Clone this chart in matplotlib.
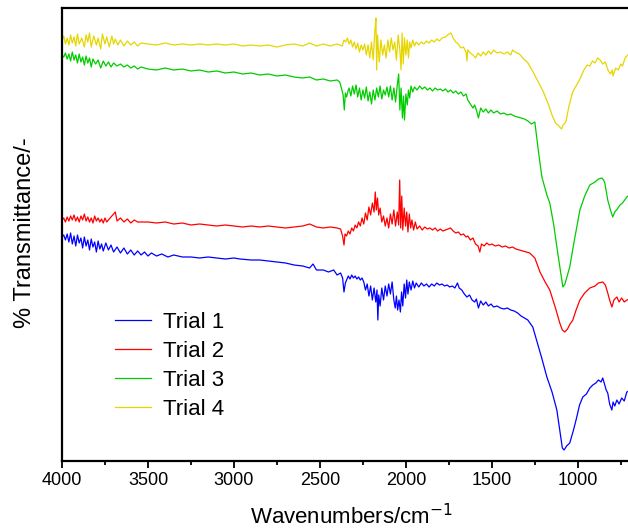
import numpy as np
import matplotlib
matplotlib.use("Agg")
import matplotlib.pyplot as plt

plt.rcParams['font.family'] = ['Liberation Sans', 'DejaVu Sans']

# (wavenumber, transmittance in arbitrary units)
trial1_points = [
    (4000, 224), (3990, 226), (3980, 221), (3970, 227), (3960, 219), (3950, 228), (3940, 217),
    (3930, 225), (3920, 215), (3910, 226), (3900, 218), (3890, 223), (3880, 213), (3870, 224),
    (3860, 215), (3850, 221), (3840, 211), (3830, 222), (3820, 214), (3810, 219), (3800, 209),
    (3790, 220), (3780, 212), (3770, 217), (3760, 210), (3745, 218), (3730, 211), (3715, 216),
    (3700, 209), (3680, 214), (3660, 208), (3640, 213), (3620, 207), (3600, 211), (3580, 206),
    (3560, 210), (3540, 206), (3520, 209), (3500, 205), (3480, 208), (3450, 205), (3420, 207),
    (3384, 204), (3350, 206), (3300, 204), (3250, 204), (3200, 203), (3150, 204), (3100, 203),
    (3050, 202), (3000, 203), (2965, 202), (2900, 201), (2850, 201), (2800, 200), (2750, 199),
    (2700, 198), (2650, 196), (2600, 195), (2560, 193), (2540, 197), (2520, 191), (2480, 191),
    (2450, 189), (2420, 191), (2400, 186), (2380, 188), (2368, 183), (2360, 169), (2352, 178),
    (2345, 181), (2335, 185), (2325, 182), (2315, 186), (2305, 183), (2295, 185), (2285, 182),
    (2275, 184), (2265, 181), (2255, 183), (2245, 179), (2235, 171), (2225, 177), (2215, 165),
    (2205, 175), (2195, 161), (2185, 173), (2175, 159), (2168, 171), (2163, 141), (2158, 166),
    (2150, 155), (2140, 173), (2130, 161), (2120, 175), (2110, 165), (2100, 177), (2090, 167),
    (2080, 179), (2070, 161), (2062, 153), (2055, 165), (2048, 151), (2040, 161), (2032, 149),
    (2025, 169), (2018, 155), (2010, 177), (2002, 163), (1995, 181), (1988, 167), (1980, 179),
    (1970, 171), (1960, 180), (1950, 173), (1940, 178), (1925, 174), (1910, 178), (1895, 175),
    (1880, 177), (1865, 174), (1850, 177), (1835, 175), (1820, 178), (1805, 176), (1790, 177),
    (1775, 175), (1760, 176), (1745, 174), (1730, 175), (1715, 173), (1700, 178), (1690, 173),
    (1675, 171), (1660, 167), (1645, 164), (1630, 166), (1615, 161), (1600, 159), (1590, 162),
    (1578, 153), (1565, 160), (1550, 156), (1535, 159), (1520, 155), (1505, 157), (1490, 154),
    (1470, 155), (1450, 153), (1430, 152), (1410, 153), (1390, 151), (1370, 150), (1350, 148),
    (1330, 145), (1310, 143), (1291, 141), (1262, 134), (1240, 121), (1210, 103), (1180, 84),
    (1150, 69), (1122, 51), (1105, 31), (1090, 13), (1080, 11), (1065, 15), (1047, 18),
    (1025, 31), (1006, 44), (990, 56), (971, 64), (950, 67), (930, 73), (913, 76), (895, 78),
    (880, 81), (865, 79), (855, 83), (845, 77), (835, 71), (826, 68), (815, 57), (802, 51),
    (795, 59), (785, 55), (773, 61), (760, 57), (745, 63), (730, 60), (715, 69), (690, 71),
]

trial2_points = [
    (4000, 241), (3990, 243), (3980, 239), (3970, 244), (3960, 240), (3950, 245), (3940, 241),
    (3930, 246), (3920, 240), (3910, 244), (3900, 239), (3890, 245), (3880, 241), (3870, 247),
    (3860, 240), (3850, 244), (3840, 239), (3830, 243), (3820, 238), (3810, 245), (3800, 240),
    (3790, 243), (3780, 239), (3770, 242), (3760, 238), (3750, 243), (3740, 239), (3690, 249),
    (3680, 240), (3660, 243), (3640, 239), (3620, 242), (3600, 238), (3580, 241), (3560, 239),
    (3500, 239), (3450, 238), (3400, 239), (3350, 237), (3300, 238), (3250, 236), (3200, 237),
    (3150, 236), (3100, 235), (3050, 236), (3000, 235), (2950, 234), (2900, 235), (2850, 234),
    (2800, 235), (2750, 234), (2700, 233), (2650, 234), (2600, 235), (2560, 237), (2520, 234),
    (2480, 233), (2440, 234), (2400, 233), (2380, 232), (2368, 225), (2360, 216), (2354, 227),
    (2345, 225), (2335, 230), (2325, 227), (2315, 233), (2305, 230), (2295, 236), (2285, 233),
    (2275, 239), (2265, 235), (2255, 243), (2245, 237), (2235, 248), (2225, 241), (2215, 254),
    (2205, 246), (2195, 258), (2185, 249), (2178, 269), (2172, 251), (2165, 263), (2158, 246),
    (2150, 253), (2140, 239), (2130, 245), (2120, 235), (2110, 243), (2100, 233), (2090, 247),
    (2080, 237), (2070, 251), (2060, 235), (2050, 249), (2042, 236), (2036, 281), (2030, 233),
    (2024, 265), (2018, 231), (2010, 253), (2002, 235), (1995, 249), (1988, 229), (1980, 247),
    (1972, 233), (1965, 241), (1955, 231), (1945, 239), (1935, 232), (1920, 235), (1905, 231),
    (1890, 234), (1875, 232), (1860, 233), (1845, 231), (1830, 233), (1815, 230), (1800, 232),
    (1785, 230), (1770, 231), (1755, 232), (1740, 233), (1725, 230), (1710, 228), (1695, 229),
    (1680, 226), (1665, 227), (1650, 224), (1640, 225), (1625, 221), (1610, 223), (1595, 217),
    (1580, 215), (1570, 209), (1560, 217), (1545, 215), (1530, 218), (1515, 216), (1500, 217),
    (1480, 215), (1460, 216), (1440, 214), (1420, 215), (1400, 213), (1380, 214), (1360, 212),
    (1340, 211), (1320, 210), (1300, 209), (1280, 208), (1250, 203), (1220, 189), (1190, 179),
    (1163, 171), (1130, 153), (1105, 138), (1090, 131), (1076, 129), (1060, 132), (1045, 137),
    (1029, 141), (1010, 151), (988, 161), (960, 168), (930, 173), (900, 175), (880, 178),
    (855, 179), (840, 176), (826, 168), (815, 161), (802, 154), (790, 161), (773, 164),
    (760, 159), (745, 163), (730, 159), (715, 161), (690, 162),
]

trial3_points = [
    (4000, 406), (3990, 404), (3980, 408), (3970, 402), (3960, 407), (3950, 400), (3940, 409),
    (3930, 401), (3920, 406), (3910, 398), (3900, 407), (3890, 399), (3880, 404), (3870, 396),
    (3860, 405), (3850, 398), (3840, 403), (3830, 394), (3820, 402), (3805, 397), (3790, 401),
    (3775, 393), (3760, 400), (3745, 395), (3730, 399), (3715, 394), (3700, 398), (3680, 395),
    (3660, 397), (3640, 394), (3620, 396), (3600, 393), (3580, 395), (3560, 392), (3540, 394),
    (3500, 392), (3450, 391), (3400, 393), (3350, 391), (3300, 392), (3250, 390), (3200, 391),
    (3150, 389), (3100, 390), (3050, 388), (3000, 389), (2950, 387), (2900, 388), (2850, 386),
    (2800, 387), (2750, 385), (2700, 386), (2650, 384), (2600, 383), (2560, 384), (2520, 381),
    (2480, 382), (2440, 380), (2400, 381), (2385, 379), (2375, 373), (2365, 366), (2358, 351),
    (2352, 368), (2345, 364), (2335, 371), (2330, 373), (2320, 365), (2310, 375), (2300, 367),
    (2290, 376), (2280, 364), (2270, 373), (2260, 361), (2250, 371), (2240, 363), (2230, 374),
    (2220, 360), (2210, 369), (2200, 357), (2190, 371), (2180, 361), (2170, 373), (2160, 364),
    (2150, 375), (2140, 362), (2130, 371), (2120, 366), (2110, 374), (2100, 364), (2090, 375),
    (2080, 361), (2070, 373), (2060, 359), (2050, 376), (2042, 387), (2035, 351), (2028, 373),
    (2020, 343), (2014, 365), (2008, 341), (2000, 367), (1992, 356), (1985, 371), (1978, 363),
    (1970, 375), (1960, 369), (1950, 374), (1935, 371), (1920, 375), (1905, 372), (1890, 374),
    (1875, 371), (1860, 373), (1845, 370), (1830, 373), (1815, 371), (1800, 372), (1785, 370),
    (1770, 372), (1755, 369), (1740, 371), (1725, 368), (1710, 370), (1695, 367), (1680, 369),
    (1665, 365), (1650, 367), (1640, 361), (1625, 357), (1610, 353), (1600, 356), (1590, 351),
    (1578, 343), (1565, 353), (1550, 349), (1535, 352), (1520, 348), (1505, 351), (1490, 348),
    (1470, 350), (1450, 347), (1430, 348), (1410, 346), (1390, 347), (1370, 345), (1350, 344),
    (1330, 343), (1310, 342), (1290, 340), (1270, 337), (1250, 339), (1230, 311), (1209, 284),
    (1180, 266), (1163, 258), (1140, 236), (1122, 214), (1100, 189), (1087, 174), (1075, 177),
    (1060, 186), (1047, 194), (1025, 216), (1006, 234), (988, 251), (960, 265), (930, 276),
    (900, 279), (880, 282), (860, 283), (850, 281), (843, 278), (826, 261), (810, 251),
    (797, 244), (785, 249), (770, 252), (755, 256), (740, 258), (715, 264), (690, 268),
]

trial4_points = [
    (4000, 421), (3990, 425), (3980, 417), (3970, 423), (3960, 416), (3950, 426), (3940, 418),
    (3930, 424), (3920, 415), (3910, 427), (3900, 417), (3885, 423), (3870, 414), (3860, 426),
    (3850, 419), (3840, 428), (3830, 414), (3815, 425), (3800, 416), (3790, 423), (3775, 412),
    (3765, 427), (3750, 417), (3740, 424), (3725, 414), (3710, 425), (3700, 417), (3690, 422),
    (3675, 416), (3660, 421), (3640, 415), (3620, 420), (3600, 416), (3580, 419), (3560, 415),
    (3540, 418), (3500, 417), (3450, 416), (3400, 418), (3350, 416), (3300, 417), (3250, 416),
    (3200, 417), (3150, 416), (3100, 417), (3050, 416), (3000, 417), (2950, 415), (2900, 416),
    (2850, 415), (2800, 416), (2750, 414), (2700, 416), (2650, 417), (2600, 415), (2560, 418),
    (2520, 415), (2480, 417), (2440, 415), (2400, 417), (2370, 415), (2360, 421), (2350, 419),
    (2340, 423), (2330, 417), (2320, 421), (2310, 414), (2300, 419), (2290, 412), (2280, 418),
    (2270, 409), (2260, 416), (2250, 411), (2240, 417), (2230, 406), (2220, 416), (2210, 403),
    (2200, 419), (2190, 401), (2180, 431), (2174, 443), (2170, 391), (2165, 426), (2155, 399),
    (2145, 421), (2135, 406), (2125, 416), (2115, 403), (2105, 421), (2095, 409), (2085, 423),
    (2075, 411), (2065, 419), (2055, 401), (2045, 426), (2035, 411), (2028, 391), (2022, 428),
    (2015, 397), (2008, 423), (2000, 406), (1992, 421), (1985, 403), (1978, 419), (1970, 413),
    (1960, 421), (1950, 415), (1940, 419), (1925, 416), (1910, 419), (1895, 417), (1880, 420),
    (1865, 418), (1850, 421), (1835, 419), (1820, 422), (1805, 420), (1790, 423), (1770, 424),
    (1750, 427), (1738, 428), (1725, 423), (1710, 419), (1695, 417), (1680, 413), (1665, 414),
    (1650, 409), (1645, 400), (1640, 411), (1625, 408), (1610, 406), (1595, 403), (1580, 408),
    (1565, 405), (1550, 409), (1535, 406), (1520, 410), (1505, 407), (1490, 411), (1470, 408),
    (1450, 409), (1430, 407), (1410, 409), (1390, 406), (1380, 411), (1365, 409), (1340, 407),
    (1320, 403), (1290, 398), (1260, 389), (1230, 379), (1200, 369), (1170, 356), (1150, 346),
    (1130, 338), (1110, 335), (1095, 332), (1085, 336), (1070, 339), (1050, 356), (1030, 369),
    (1010, 375), (1000, 378), (985, 383), (965, 391), (945, 396), (930, 395), (915, 400),
    (900, 398), (885, 403), (870, 401), (855, 397), (840, 399), (825, 391), (810, 387),
    (800, 391), (795, 385), (780, 393), (765, 391), (750, 397), (740, 395), (725, 403),
    (710, 406), (690, 409),
]

labels = ["Trial 1", "Trial 2", "Trial 3", "Trial 4"]
colors = ["#0000FF", "#FF0000", "#00CC00", "#E6D600"]
series = [trial1_points, trial2_points, trial3_points, trial4_points]

fig = plt.figure(figsize=(6.28, 5.32), dpi=100)
# axes run past the right edge of the picture, like the cropped original
ax = fig.add_axes([62 / 628, 71 / 532, 576 / 628, 453 / 532])

for pts, lab, col in zip(series, labels, colors):
    arr = np.array(pts, dtype=float)
    ax.plot(arr[:, 0], arr[:, 1], color=col, lw=0.9, label=lab)

ax.set_xlim(4000, 650)
ax.set_ylim(0, 453)
ax.set_xticks([4000, 3500, 3000, 2500, 2000, 1500, 1000])
ax.set_xticks(np.arange(3750, 650, -500), minor=True)
ax.tick_params(axis='x', which='major', direction='out', length=5, width=1.3, labelsize=13, pad=3)
ax.tick_params(axis='x', which='minor', direction='out', length=3, width=1.3)
ax.set_yticks([])
for side in ['left', 'bottom', 'top']:
    ax.spines[side].set_linewidth(1.6)
ax.spines['right'].set_visible(False)

ax.set_xlabel("Wavenumbers/cm$^{-1}$", fontsize=16)
ax.xaxis.set_label_coords(0.502, -0.095)
ax.set_ylabel("% Transmittance/-", fontsize=17)
ax.yaxis.set_label_coords(-0.045, 0.505)

ax.legend(loc='upper left', bbox_to_anchor=(0.092, 0.33), frameon=False, fontsize=16,
          handlelength=1.6, handletextpad=0.55, labelspacing=0.36, borderpad=0, borderaxespad=0)

fig.savefig("out.png", dpi=100)
